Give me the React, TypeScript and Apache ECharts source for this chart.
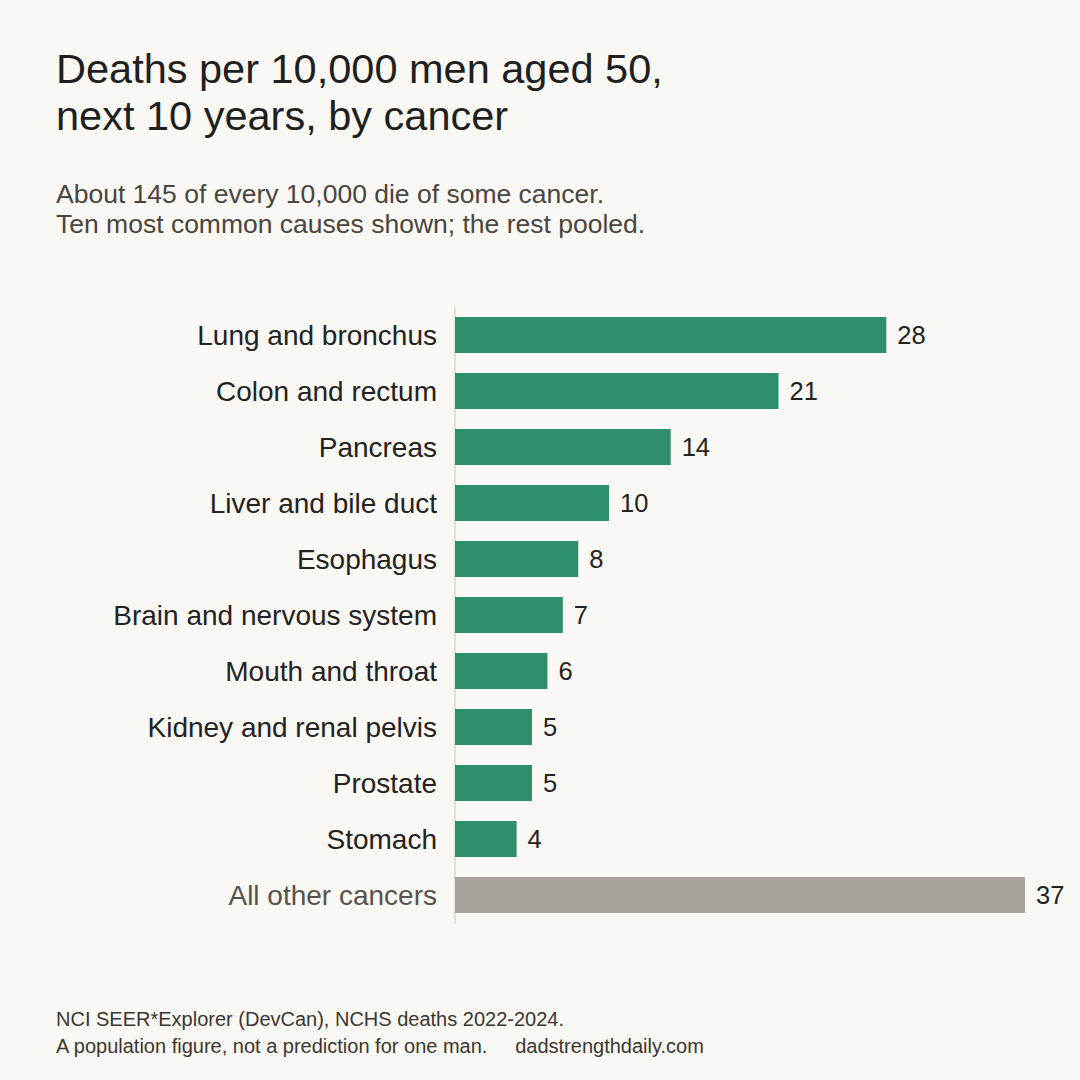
import { useEffect, useRef } from "react";
import * as echarts from "echarts";

const categories = [
  "Lung and bronchus",
  "Colon and rectum",
  "Pancreas",
  "Liver and bile duct",
  "Esophagus",
  "Brain and nervous system",
  "Mouth and throat",
  "Kidney and renal pelvis",
  "Prostate",
  "Stomach",
  "All other cancers",
];
const deaths = [28, 21, 14, 10, 8, 7, 6, 5, 5, 4, 37];
const pooledLabel = "All other cancers";

const titleLines = ["Deaths per 10,000 men aged 50,", "next 10 years, by cancer"];
const subtitleLines = [
  "About 145 of every 10,000 die of some cancer.",
  "Ten most common causes shown; the rest pooled.",
];
const footerLines = [
  "NCI SEER*Explorer (DevCan), NCHS deaths 2022-2024.",
  "A population figure, not a prediction for one man.     dadstrengthdaily.com",
];

const FONT = "'Liberation Sans', Arial, sans-serif";
const GREEN = "#2e8f6b";
const GREY = "#a8a39c";

export default function App() {
  const ref = useRef<HTMLDivElement | null>(null);

  useEffect(() => {
    if (!ref.current) return;
    const chart = echarts.init(ref.current, null, { renderer: "svg" });

    const textLines = (lines: string[], y0: number, step: number, size: number, color: string) =>
      lines.map((t, i) => ({
        type: "text",
        left: 56,
        top: y0 + i * step,
        style: { text: t, fontSize: size, fontFamily: FONT, fill: color },
      }));

    chart.setOption({
      animation: false,
      backgroundColor: "#f9f8f4",
      textStyle: { fontFamily: FONT },
      grid: { left: 455, right: 55, top: 307, bottom: 157 },
      xAxis: {
        type: "value",
        min: 0,
        max: 37,
        show: false,
      },
      yAxis: {
        type: "category",
        inverse: true,
        data: categories.map((c) => ({
          value: c,
          textStyle: { color: c === pooledLabel ? "#57524c" : "#222" },
        })),
        axisTick: { show: false },
        axisLine: { show: true, lineStyle: { color: "#e2dfd8", width: 2 } },
        axisLabel: { fontSize: 28, margin: 18, fontFamily: FONT },
      },
      series: [
        {
          type: "bar",
          barWidth: 36,
          data: deaths.map((v, i) => ({
            value: v,
            itemStyle: { color: categories[i] === pooledLabel ? GREY : GREEN },
          })),
          label: {
            show: true,
            position: "right",
            distance: 11,
            fontSize: 25.5,
            color: "#222",
            fontFamily: FONT,
          },
        },
      ],
      graphic: [
        ...textLines(titleLines, 47, 47, 41.5, "#1f1f1f"),
        ...textLines(subtitleLines, 180, 30, 26.5, "#4a4540"),
        ...textLines(footerLines, 1009, 27, 20, "#3a3631"),
      ],
    });

    return () => chart.dispose();
  }, []);

  return (
    <div
      ref={ref}
      style={{ position: "fixed", left: 0, top: 0, width: 1080, height: 1080 }}
    />
  );
}
